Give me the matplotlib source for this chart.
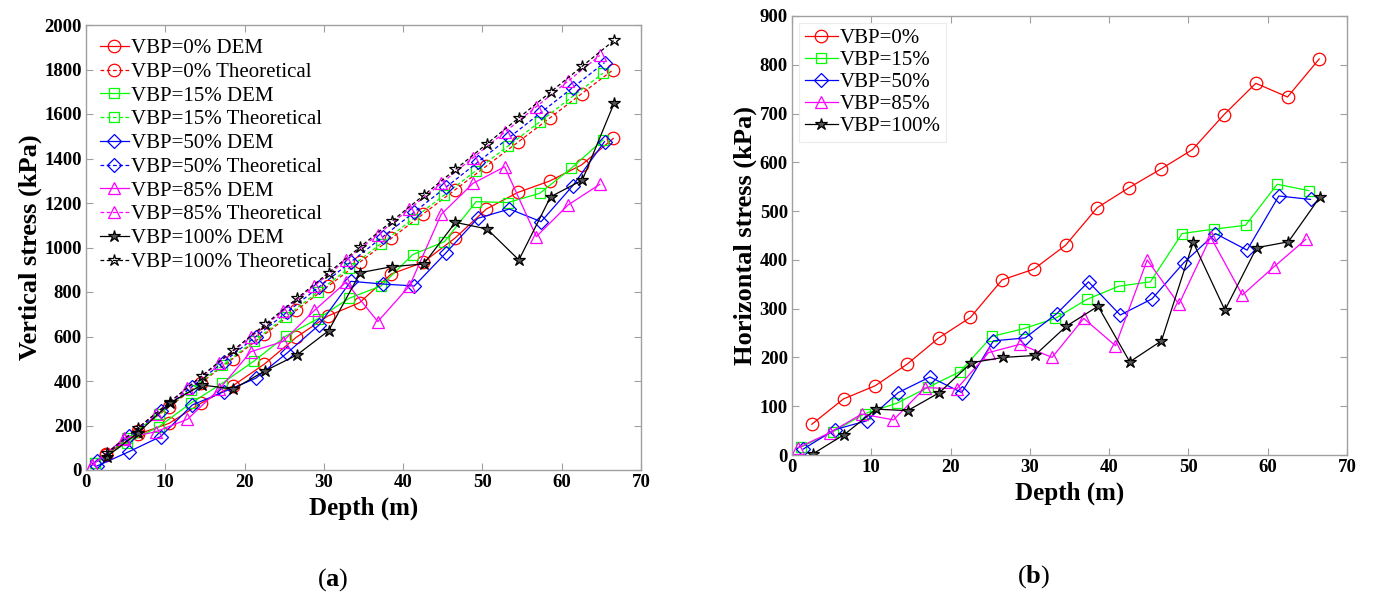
import matplotlib
matplotlib.use("Agg")
import matplotlib.pyplot as plt

plt.rcParams["font.family"] = ["Liberation Serif", "DejaVu Serif"]
plt.rcParams["mathtext.fontset"] = "custom"
plt.rcParams["mathtext.rm"] = "Liberation Serif"
plt.rcParams["mathtext.bf"] = "Liberation Serif:bold"

# depths (m) of the sampled points for each VBP case
depth_0 = [2.5, 6.5, 10.5, 14.5, 18.5, 22.5, 26.5, 30.5, 34.5, 38.5, 42.5, 46.5, 50.5, 54.5, 58.5, 62.5, 66.5]
depth_15 = [1.1, 5.2, 9.2, 13.2, 17.2, 21.2, 25.2, 29.2, 33.2, 37.2, 41.2, 45.2, 49.2, 53.2, 57.2, 61.2, 65.2]
depth_50 = [1.4, 5.4, 9.4, 13.4, 17.4, 21.4, 25.4, 29.4, 33.4, 37.4, 41.4, 45.4, 49.4, 53.4, 57.4, 61.4, 65.4]
depth_85 = [0.8, 4.8, 8.8, 12.8, 16.8, 20.8, 24.8, 28.8, 32.8, 36.8, 40.8, 44.8, 48.8, 52.8, 56.8, 60.8, 64.8]
depth_100 = [2.6, 6.6, 10.6, 14.6, 18.6, 22.6, 26.6, 30.6, 34.6, 38.6, 42.6, 46.6, 50.6, 54.6, 58.6, 62.6, 66.6]

# (a) vertical stress, DEM (kPa)
vert_dem_0 = [72, 160, 210, 300, 378, 476, 596, 692, 752, 881, 933, 1041, 1173, 1248, 1299, 1371, 1490]
vert_dem_15 = [33, 123, 195, 300, 390, 490, 602, 679, 772, 827, 968, 1026, 1206, 1202, 1243, 1356, 1483]
vert_dem_50 = [18, 82, 150, 292, 352, 412, 527, 652, 848, 836, 827, 976, 1131, 1173, 1116, 1278, 1476]
vert_dem_85 = [22, 142, 172, 228, 363, 532, 577, 717, 844, 667, 827, 1149, 1288, 1363, 1049, 1191, 1284]
vert_dem_100 = [60, 168, 302, 382, 364, 446, 517, 626, 887, 914, 926, 1113, 1083, 944, 1228, 1303, 1648]

# (a) vertical stress, theoretical (kPa)
vert_th_0 = [68, 176, 284, 392, 500, 609, 717, 825, 933, 1041, 1150, 1258, 1366, 1474, 1582, 1691, 1799]
vert_th_15 = [33, 142, 252, 361, 470, 580, 689, 799, 908, 1017, 1127, 1236, 1346, 1455, 1564, 1674, 1783]
vert_th_50 = [39, 151, 263, 375, 487, 599, 711, 823, 935, 1047, 1159, 1271, 1383, 1495, 1607, 1719, 1831]
vert_th_85 = [23, 138, 253, 368, 483, 598, 713, 828, 943, 1058, 1173, 1288, 1403, 1518, 1633, 1748, 1863]
vert_th_100 = [75, 191, 307, 423, 539, 655, 771, 887, 1003, 1119, 1235, 1351, 1467, 1583, 1699, 1815, 1931]

# (b) horizontal stress (kPa)
hor_0 = [63, 115, 142, 186, 240, 282, 359, 381, 430, 507, 548, 586, 626, 698, 762, 734, 812]
hor_15 = [16, 48, 85, 106, 139, 171, 243, 259, 280, 319, 346, 355, 454, 463, 471, 555, 542]
hor_50 = [12, 52, 70, 128, 160, 128, 234, 240, 290, 355, 287, 320, 394, 454, 420, 531, 524]
hor_85 = [15, 46, 84, 72, 138, 136, 210, 227, 200, 280, 224, 400, 309, 447, 328, 386, 442]
hor_100 = [2, 42, 94, 91, 128, 189, 200, 204, 264, 305, 191, 234, 436, 297, 425, 437, 529]

labels = ["VBP=0%", "VBP=15%", "VBP=50%", "VBP=85%", "VBP=100%"]
colors = ["#ff0000", "#00ff00", "#0000ff", "#ff00ff", "#000000"]
markers = ["o", "s", "D", "^", "*"]
msizes = [9, 7, 7, 9, 9]

depths = [depth_0, depth_15, depth_50, depth_85, depth_100]
vert_dem = [vert_dem_0, vert_dem_15, vert_dem_50, vert_dem_85, vert_dem_100]
vert_th = [vert_th_0, vert_th_15, vert_th_50, vert_th_85, vert_th_100]
hor = [hor_0, hor_15, hor_50, hor_85, hor_100]

fig = plt.figure(figsize=(13.73, 5.99), dpi=100)
ax1 = fig.add_axes([86 / 1373, 129 / 599, 555 / 1373, 445 / 599])
ax2 = fig.add_axes([792 / 1373, 144 / 599, 555 / 1373, 439 / 599])


def style_axis(ax):
    for sp in ax.spines.values():
        sp.set_color("#a0a0a0")
        sp.set_linewidth(1.0)
    ax.tick_params(direction="in", top=True, right=True, length=5,
                   color="#a0a0a0", labelsize=13.5, pad=3)
    for lab in ax.get_xticklabels() + ax.get_yticklabels():
        lab.set_fontweight("bold")


# (a)
for d, dem, th, lab, c, m, ms in zip(depths, vert_dem, vert_th, labels, colors, markers, msizes):
    dem_face = "#555555" if m == "*" else "none"
    ax1.plot(d, dem, color=c, lw=0.9, marker=m, ms=ms, mfc=dem_face, mec=c,
             mew=0.9, label=lab + " DEM")
    ax1.plot(d, th, color=c, lw=0.9, ls=(0, (3, 2)), marker=m, ms=ms, mfc="none",
             mec=c, mew=0.9, label=lab + " Theoretical")
ax1.set_xlim(0, 70)
ax1.set_ylim(0, 2000)
ax1.set_xticks(range(0, 71, 10))
ax1.set_yticks(range(0, 2001, 200))
style_axis(ax1)
ax1.set_xlabel("Depth (m)", fontsize=18, fontweight="bold", labelpad=4)
ax1.set_ylabel("Vertical stress (kPa)", fontsize=19, fontweight="bold", labelpad=2)
ax1.legend(loc="upper left", fontsize=15, frameon=False, handlelength=1.4,
           handletextpad=0.1, labelspacing=0.2, borderaxespad=0.25,
           bbox_to_anchor=(0.0, 1.0))

# (b)
for d, h, lab, c, m, ms in zip(depths, hor, labels, colors, markers, msizes):
    face = "#555555" if m == "*" else "none"
    ax2.plot(d, h, color=c, lw=0.9, marker=m, ms=ms, mfc=face, mec=c, mew=0.9, label=lab)
ax2.set_xlim(0, 70)
ax2.set_ylim(0, 900)
ax2.set_xticks(range(0, 71, 10))
ax2.set_yticks(range(0, 901, 100))
style_axis(ax2)
ax2.set_xlabel("Depth (m)", fontsize=18, fontweight="bold", labelpad=4)
ax2.set_ylabel("Horizontal stress (kPa)", fontsize=19, fontweight="bold", labelpad=2)
leg2 = ax2.legend(loc="upper left", fontsize=15, frameon=True, fancybox=False,
                  edgecolor="#e6e6e6", handlelength=1.6, handletextpad=0.1,
                  labelspacing=0.12, borderaxespad=0.35, borderpad=0.25)
leg2.get_frame().set_linewidth(0.8)

fig.text(333 / 1373, 1 - 580 / 599, "($\\mathbf{a}$)", ha="center", va="center", fontsize=19)
fig.text(1034 / 1373, 1 - 577 / 599, "($\\mathbf{b}$)", ha="center", va="center", fontsize=19)

fig.savefig("out.png", dpi=100, facecolor="white")
plt.close(fig)
